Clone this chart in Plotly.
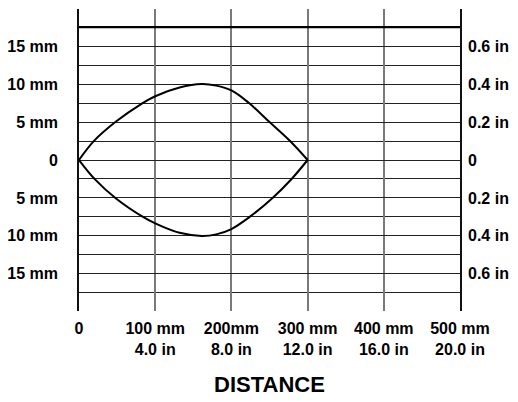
import plotly.graph_objects as go

# Beam pattern (distance in mm, half-width in mm)
upper_x = [0, 20, 49, 82, 100, 132, 161, 180, 200, 222, 250, 277, 300]
upper_y = [0, 2.55, 5.1, 7.4, 8.4, 9.55, 10, 9.8, 9.17, 7.6, 5.0, 2.5, 0]
lower_x = [0, 21, 49, 84, 100, 132, 161, 180, 200, 224, 254, 279, 300]
lower_y = [0, -2.55, -5.1, -7.5, -8.35, -9.6, -10, -9.8, -9.1, -7.5, -5, -2.5, 0]

x_ticks = [0, 100, 200, 300, 400, 500]
x_labels = ["0", "100 mm<br>4.0 in", "200mm<br>8.0 in", "300 mm<br>12.0 in",
            "400 mm<br>16.0 in", "500 mm<br>20.0 in"]
y_ticks = [15, 10, 5, 0, -5, -10, -15]
y_labels_mm = ["15 mm", "10 mm", "5 mm", "0", "5 mm", "10 mm", "15 mm"]
y_labels_in = ["0.6 in", "0.4 in", "0.2 in", "0", "0.2 in", "0.4 in", "0.6 in"]
top_line_y = 17.5

FONT = "Liberation Sans, Arial, sans-serif"
YR = [-19.9, 19.9]

fig = go.Figure()
fig.add_trace(go.Scatter(x=[0, 500], y=[top_line_y, top_line_y], mode="lines",
                         line=dict(color="black", width=2.2), hoverinfo="skip"))
fig.add_trace(go.Scatter(x=upper_x, y=upper_y, mode="lines",
                         line=dict(color="black", width=2, shape="spline", smoothing=1.0)))
fig.add_trace(go.Scatter(x=lower_x, y=lower_y, mode="lines",
                         line=dict(color="black", width=2, shape="spline", smoothing=1.0)))
fig.add_trace(go.Scatter(x=[0], y=[0], yaxis="y2", mode="markers",
                         marker=dict(opacity=0), hoverinfo="skip"))

# margins compensate for the 8px default body margin of the html page
fig.update_layout(
    width=518, height=402,
    margin=dict(l=71, r=66, t=1, b=99),
    paper_bgcolor="white", plot_bgcolor="white",
    showlegend=False,
    font=dict(family=FONT, size=16, color="black", weight="bold"),
    xaxis=dict(range=[0, 500], tickvals=x_ticks, ticktext=x_labels,
               showgrid=True, gridcolor="#7a7a7a", gridwidth=1.6,
               zeroline=False, showline=False, ticks="", automargin=False,
               ticklabelstandoff=6,
               tickfont=dict(family=FONT, size=16, weight="bold"),
               title=dict(text="DISTANCE", standoff=19,
                          font=dict(family=FONT, size=22, weight="bold"))),
    yaxis=dict(range=YR, tickvals=y_ticks, ticktext=y_labels_mm,
               showgrid=True, gridcolor="#222", gridwidth=1,
               minor=dict(dtick=2.5, tick0=0, showgrid=True, gridcolor="#222", gridwidth=1),
               zeroline=False, showline=True, mirror=True, linecolor="#111", linewidth=1.6,
               ticks="", ticklabelstandoff=16, automargin=False,
               tickfont=dict(family=FONT, size=16, weight="bold")),
    yaxis2=dict(range=YR, overlaying="y", side="right", tickvals=y_ticks,
                ticktext=y_labels_in, showgrid=False, zeroline=False,
                ticks="", ticklabelstandoff=7, automargin=False,
                tickfont=dict(family=FONT, size=16, weight="bold")),
)

fig.write_html("out.html")
